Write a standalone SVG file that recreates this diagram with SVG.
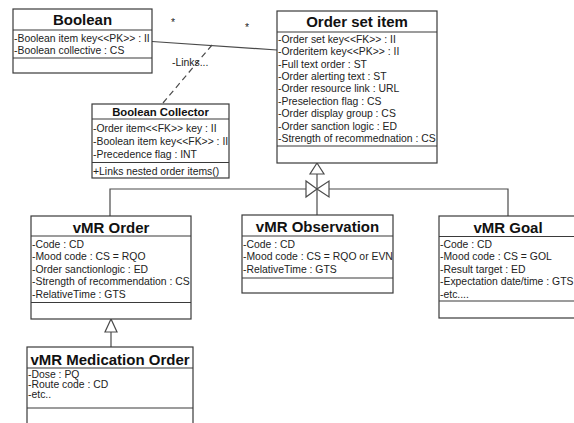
<svg xmlns="http://www.w3.org/2000/svg" width="574" height="423" viewBox="0 0 574 423">
<style>
.box{fill:#fff;stroke:#3a3a3a;stroke-width:1.2}
.sep{stroke:#3a3a3a;stroke-width:1.2}
.t{font-family:"Liberation Sans",Arial,sans-serif;font-weight:bold;font-size:15px;fill:#111;text-anchor:middle}
.ts{font-family:"Liberation Sans",Arial,sans-serif;font-weight:bold;font-size:11.3px;fill:#111;text-anchor:middle}
.a{font-family:"Liberation Sans",Arial,sans-serif;font-size:10.4px;fill:#222}
.ln{fill:none;stroke:#4a4a4a;stroke-width:1.2}
.tri{fill:#fff;stroke:#4a4a4a;stroke-width:1.2}
</style>
<rect width="574" height="423" fill="#fff"/>
<g id="connectors">
<line class="ln" x1="152" y1="41.5" x2="277" y2="50"/>
<line class="ln" x1="212" y1="45" x2="163" y2="103" stroke-dasharray="6,4"/>
<text class="a" x="172" y="66">-Links...</text>
<text class="a" x="171" y="26" font-size="8">*</text>
<text class="a" x="245" y="31" font-size="8">*</text>
<polyline class="ln" points="110,216 110,189 306,189"/>
<polyline class="ln" points="329,189 508,189 508,216"/>
<line class="ln" x1="317" y1="174" x2="317" y2="215"/>
<polygon class="tri" points="317,163 310,174 324,174"/>
<polygon class="tri" points="306,181 306,197 317,189"/>
<polygon class="tri" points="329,181 329,197 317,189"/>
<line class="ln" x1="111" y1="332" x2="111" y2="347"/>
<polygon class="tri" points="111,319 105,332 117,332"/>
</g>
<g id="boolean">
<rect class="box" x="13" y="9" width="139" height="64"/>
<line class="sep" x1="13" y1="30" x2="152" y2="30"/>
<line class="sep" x1="13" y1="58" x2="152" y2="58"/>
<text class="t" x="82.5" y="25.4">Boolean</text>
<text class="a" x="14" y="42">-Boolean item key&lt;&lt;PK&gt;&gt; : II</text>
<text class="a" x="14" y="54.4">-Boolean collective : CS</text>
</g>
<g id="order-set-item">
<rect class="box" x="277" y="11" width="160" height="152"/>
<line class="sep" x1="277" y1="32" x2="437" y2="32"/>
<line class="sep" x1="277" y1="146" x2="437" y2="146"/>
<text class="t" x="357" y="27">Order set item</text>
<text class="a" x="278" y="42.7">-Order set key&lt;&lt;FK&gt;&gt; : II</text>
<text class="a" x="278" y="55.1">-Orderitem key&lt;&lt;PK&gt;&gt; : II</text>
<text class="a" x="278" y="67.5">-Full text order : ST</text>
<text class="a" x="278" y="79.9">-Order alerting text : ST</text>
<text class="a" x="278" y="92.3">-Order resource link : URL</text>
<text class="a" x="278" y="104.7">-Preselection flag : CS</text>
<text class="a" x="278" y="117.1">-Order display group : CS</text>
<text class="a" x="278" y="129.5">-Order sanction logic : ED</text>
<text class="a" x="278" y="141.9">-Strength of recommednation : CS</text>
</g>
<g id="boolean-collector">
<rect class="box" x="92" y="104" width="137" height="74"/>
<line class="sep" x1="92" y1="119" x2="229" y2="119"/>
<line class="sep" x1="92" y1="162.5" x2="229" y2="162.5"/>
<text class="ts" x="160.5" y="115.5">Boolean Collector</text>
<text class="a" x="93" y="132">-Order item&lt;&lt;FK&gt;&gt; key : II</text>
<text class="a" x="93" y="144.7">-Boolean item key&lt;&lt;FK&gt;&gt; : II</text>
<text class="a" x="93" y="158">-Precedence flag : INT</text>
<text class="a" x="93" y="175">+Links nested order items()</text>
</g>
<g id="vmr-order">
<rect class="box" x="31" y="216" width="160" height="103"/>
<line class="sep" x1="31" y1="236" x2="191" y2="236"/>
<line class="sep" x1="31" y1="302.5" x2="191" y2="302.5"/>
<text class="t" x="111" y="233">vMR Order</text>
<text class="a" x="32" y="247.7">-Code : CD</text>
<text class="a" x="32" y="260.4">-Mood code : CS = RQO</text>
<text class="a" x="32" y="273">-Order sanctionlogic : ED</text>
<text class="a" x="32" y="285.4">-Strength of recommendation : CS</text>
<text class="a" x="32" y="298">-RelativeTime : GTS</text>
</g>
<g id="vmr-observation">
<rect class="box" x="242" y="215" width="151" height="78"/>
<line class="sep" x1="242" y1="236" x2="393" y2="236"/>
<line class="sep" x1="242" y1="278" x2="393" y2="278"/>
<text class="t" x="317.5" y="232">vMR Observation</text>
<text class="a" x="243" y="247.7">-Code : CD</text>
<text class="a" x="243" y="260.4">-Mood code : CS = RQO or EVN</text>
<text class="a" x="243" y="273">-RelativeTime : GTS</text>
</g>
<g id="vmr-goal">
<rect class="box" x="439" y="216" width="140" height="102"/>
<line class="sep" x1="439" y1="236.5" x2="579" y2="236.5"/>
<line class="sep" x1="439" y1="301" x2="579" y2="301"/>
<text class="t" x="508" y="232.5">vMR Goal</text>
<text class="a" x="440" y="247.7">-Code : CD</text>
<text class="a" x="440" y="260.4">-Mood code : CS = GOL</text>
<text class="a" x="440" y="273">-Result target : ED</text>
<text class="a" x="440" y="285.4">-Expectation date/time : GTS</text>
<text class="a" x="440" y="298">-etc....</text>
</g>
<g id="vmr-medication-order">
<rect class="box" x="27" y="347" width="166" height="85"/>
<line class="sep" x1="27" y1="368" x2="193" y2="368"/>
<line class="sep" x1="27" y1="408" x2="193" y2="408"/>
<text class="t" x="110" y="365" font-size="15.5">vMR Medication Order</text>
<text class="a" x="28" y="377.5">-Dose : PQ</text>
<text class="a" x="28" y="388">-Route code : CD</text>
<text class="a" x="28" y="398">-etc..</text>
</g>
</svg>
